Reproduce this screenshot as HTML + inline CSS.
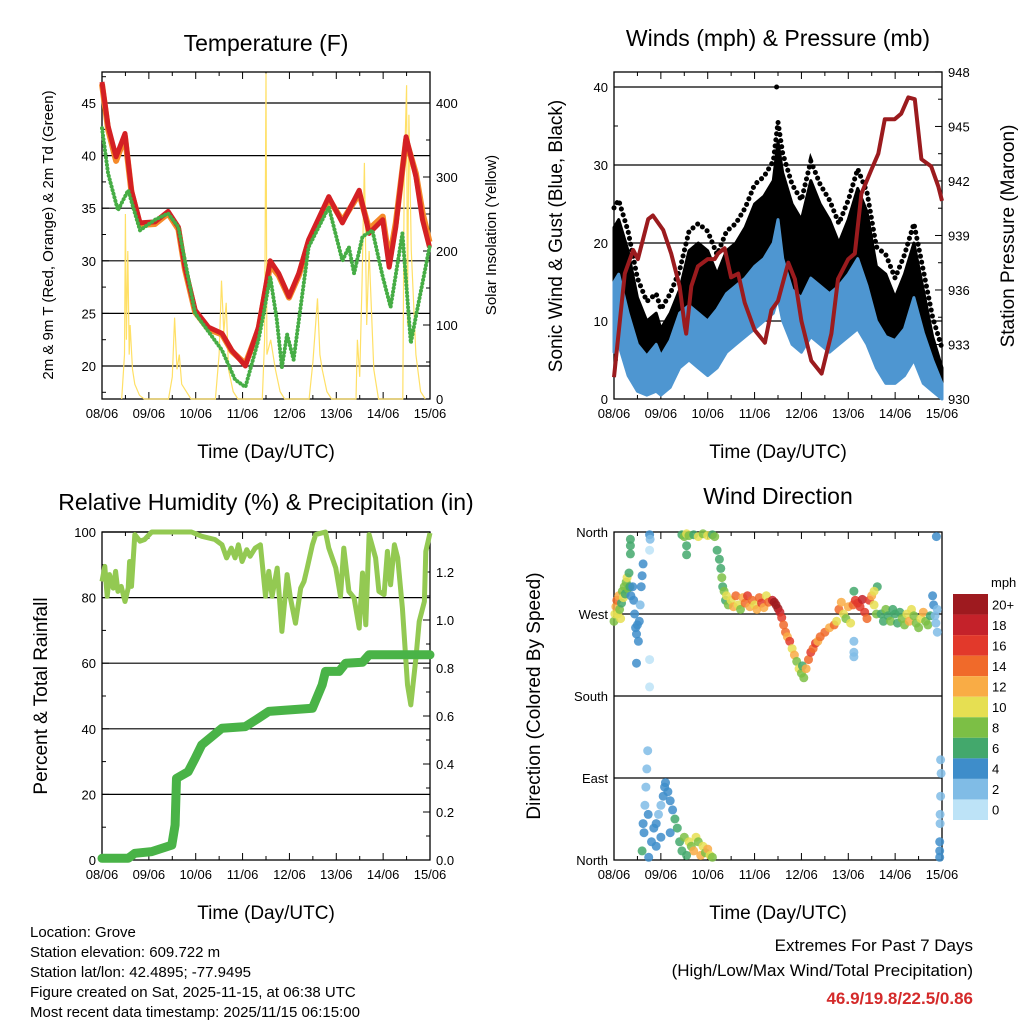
<!DOCTYPE html>
<html><head><meta charset="utf-8"><style>
html,body{margin:0;padding:0;background:#fff}
svg{display:block;font-family:"Liberation Sans",Arial,sans-serif}
</style></head><body>
<svg id="fig" width="1024" height="1024" viewBox="0 0 1024 1024" xmlns="http://www.w3.org/2000/svg"></svg>
<script>
// ---------- DATA ----------
const dayLabels = ["08/06","09/06","10/06","11/06","12/06","13/06","14/06","15/06"];
// Temperature (F)
const tRedT = [0,0.13,0.3,0.49,0.63,0.81,1.13,1.41,1.63,1.77,1.99,2.27,2.56,2.77,3.06,3.34,3.59,3.77,3.99,4.2,4.41,4.84,5.13,5.49,5.7,5.99,6.13,6.27,6.49,6.7,6.84,6.99];
const tRedV = [47,42.8,39.9,42.1,36.7,33.6,33.7,34.7,33.2,29.4,25.3,23.7,23.1,21.5,20,23.7,30,28.8,26.6,28.8,32,36.1,33.6,36.7,32.6,33.9,29.4,33.2,41.8,38,33.9,31.3];
const tOrV = [46.8,42.5,39.5,41.8,36.5,33.4,33.5,34.5,33,29.2,25.1,23.5,23,21.4,20.2,23.5,29.6,28.6,26.5,28.6,31.8,35.9,33.8,36.4,33,34.2,30,33.6,41.5,38.3,34.6,31.8];
const tDewT = [0,0.13,0.34,0.56,0.81,1.13,1.41,1.63,1.99,2.56,2.84,3.06,3.34,3.45,3.59,3.73,3.84,3.95,4.09,4.41,4.84,5.13,5.27,5.38,5.56,5.77,5.99,6.16,6.41,6.59,6.77,6.99];
const tDewV = [42.6,38.3,34.8,36.7,32.9,33.9,34.5,33.2,25,21.5,18.7,18,22.5,25,28.5,24.4,19.9,23,20.6,31.3,35.1,30,31.3,28.8,32.3,32.9,28.5,25.6,32.6,22.2,26.3,31.3];
const solarT = [0.42,0.48,0.5,0.52,0.55,0.58,0.6,0.65,0.7,0.8,0.9, 1.42,1.5,1.55,1.6,1.65,1.7,1.8,1.9, 2.42,2.5,2.55,2.6,2.65,2.7,2.8,2.9, 3.42,3.47,3.5,3.52,3.6,3.7,3.8,3.9, 4.42,4.5,4.6,4.65,4.7,4.8,4.9, 5.42,5.45,5.5,5.55,5.6,5.65,5.7,5.8,5.9, 6.42,6.45,6.5,6.52,6.55,6.6,6.7,6.8,6.9];
const solarV = [0,60,250,80,200,60,100,40,20,5,0, 0,30,110,40,60,20,10,0, 0,60,160,90,130,40,10,0, 0,80,440,60,80,40,10,0, 0,50,136,60,40,10,0, 0,80,30,160,319,100,200,40,0, 0,300,424,100,384,200,60,10,0];
// Winds (mph) & pressure (mb)
const windT = [0,0.1,0.3,0.5,0.7,0.9,1.0,1.2,1.4,1.6,1.8,2.0,2.2,2.4,2.6,2.8,3.0,3.2,3.4,3.5,3.6,3.8,4.0,4.2,4.4,4.6,4.8,5.0,5.2,5.4,5.6,5.8,6.0,6.2,6.4,6.6,6.8,7.0];
const gustV = [22,23,19,13,10,11,9,11,14,19,20,19,16,19,20,22,25,26,28,33,29,25,23,28,25,23,20,23,27,24,17,16,13,16,20,14,8,4];
const sustV = [15,16,11,7,5.5,7,5.5,7.5,11,12,11,10,11.5,13.5,14.5,15.5,17,18,20,23,18,14,13,15.5,14.5,13.5,14.5,16,18,14.5,10,8,7.5,9,13,8.5,5,2];
const lowV  = [6,7,3,1,0.5,1,0.5,1.5,4,5,4,3,4,6,7,8,9,10,11,13,10,7,6,8,7,6,7,8,9,7,4,2,2,3,5,2,1,0];
const maxGustT = [3.47];
const maxGustV = [40];
const presT = [0,0.23,0.41,0.51,0.73,0.83,1.05,1.22,1.4,1.51,1.54,1.65,1.79,2.0,2.15,2.22,2.36,2.5,2.65,2.79,3.0,3.22,3.36,3.5,3.72,3.86,4.0,4.21,4.43,4.64,4.78,5.0,5.14,5.28,5.49,5.64,5.78,5.99,6.13,6.28,6.42,6.56,6.77,6.92,7.0];
const presV = [931.2,936.9,938.2,937.7,939.9,940.1,939.3,938,936.2,934,933.6,936.2,937.3,937.7,937.7,938,938.3,936.7,936.9,935.3,933.8,933.1,934.9,935.4,937.5,936.6,934.3,932.1,931.4,933.6,936.6,937.7,938,941.3,942.6,943.5,945.4,945.4,945.7,946.6,946.5,943.2,942.8,941.7,940.9];
// RH (%) & precipitation (in)
const rhT = [0,0.06,0.11,0.16,0.24,0.29,0.34,0.41,0.49,0.56,0.59,0.63,0.7,0.81,0.91,1.06,1.91,2.13,2.41,2.56,2.66,2.76,2.84,2.91,2.99,3.09,3.16,3.27,3.38,3.49,3.56,3.63,3.74,3.84,3.95,4.02,4.13,4.24,4.31,4.38,4.49,4.56,4.77,4.84,4.99,5.09,5.16,5.27,5.38,5.49,5.56,5.63,5.7,5.84,5.91,6.02,6.09,6.16,6.24,6.31,6.41,6.52,6.59,6.7,6.77,6.88,6.91,7.0];
const rhV = [84.9,89.5,80.4,87,82.9,88,81.9,83.4,78.8,82.9,91,83.4,99.2,97.2,97.7,100,100,98.7,97.7,96.1,92.1,95.1,92.1,96.1,91,94.6,92.6,95.1,96.1,80.4,88,80.4,89,69.7,87,79.9,72.2,82.9,84.9,89,96.1,99.2,100,95.1,89,80.4,95.1,81.9,79.9,70.7,87.5,71.7,99.2,92.1,81.9,80.9,94.1,83.9,96.1,92.1,76.8,53.4,47.3,61.5,72.7,78.8,94.1,99.7];
const prT = [0,0.56,0.7,1.06,1.49,1.56,1.59,1.84,1.99,2.13,2.56,3.06,3.34,3.56,4.49,4.7,4.77,5.06,5.2,5.56,5.7,7.0];
const prV = [0.007,0.007,0.028,0.035,0.062,0.146,0.34,0.368,0.424,0.48,0.549,0.556,0.591,0.619,0.632,0.73,0.786,0.786,0.82,0.824,0.855,0.855];
// Wind direction (deg) & speed (mph)
const dirT = [0,0.02,0.04,0.06,0.08,0.1,0.12,0.14,0.16,0.18,0.2,0.22,0.24,0.26,0.28,0.3,0.32,0.34,0.36,0.35,0.35,0.35,0.4,0.42,0.44,0.46,0.48,0.5,0.52,0.54,0.56,0.58,0.6,0.48,0.62,0.76,0.77,0.76,0.76,0.76,0.6,0.62,0.64,0.66,0.68,0.7,0.72,0.74,0.73,0.8,0.85,0.9,0.95,1.0,1.05,1.08,1.1,1.15,1.2,1.25,1.3,1.0,0.9,1.2,1.35,1.4,1.45,1.5,1.6,1.65,1.7,1.75,1.8,1.85,1.9,1.95,2.0,2.05,2.1,1.55,1.45,1.5,1.55,1.6,1.7,1.8,1.9,2.0,2.1,2.15,1.55,1.55,2.2,2.25,2.28,2.3,2.32,2.35,2.38,2.4,2.44,2.5,2.55,2.6,2.65,2.7,2.75,2.8,2.85,2.9,2.95,3.0,3.05,3.1,3.15,3.2,3.25,3.3,3.38,3.42,3.46,3.5,3.54,3.58,3.62,3.66,3.7,3.75,3.8,3.85,3.9,3.95,4.0,4.05,4.02,4.1,4.15,4.2,4.25,4.3,4.35,4.4,4.5,4.6,4.7,4.75,4.8,4.85,4.9,4.95,5.0,5.05,5.1,5.15,5.2,5.25,5.3,5.35,5.4,5.45,5.5,5.55,5.6,5.62,5.55,5.12,5.12,5.12,5.12,5.7,5.75,5.8,5.85,5.9,5.95,6.0,6.05,6.1,6.15,6.2,6.25,6.3,6.35,6.4,6.45,6.5,6.55,6.6,6.65,6.7,6.75,6.8,6.82,6.85,6.87,6.9,6.9,6.88,6.97,6.98,6.97,6.96,6.96,6.95,6.95,6.95];
const dirV = [262,270,278,285,270,290,275,265,282,295,288,300,292,305,310,298,315,300,290,345,352,336,300,285,270,255,248,258,240,262,280,300,312,216,325,357,352,340,220,190,10,40,30,60,80,100,120,3,50,20,35,40,50,60,70,80,85,75,65,55,45,25,15,30,35,20,10,25,20,15,10,25,20,5,15,8,12,5,3,5,357,355,358,356,357,355,358,356,357,355,345,335,340,330,320,310,300,295,285,290,280,285,278,290,280,275,288,282,290,278,285,280,275,288,282,277,290,283,285,283,280,276,272,266,258,250,245,240,232,225,218,210,205,200,213,210,220,228,232,238,240,245,250,255,258,262,275,283,270,265,278,260,280,285,282,278,286,272,265,285,290,280,270,300,295,240,228,223,295,270,262,275,268,262,275,270,260,272,265,258,270,262,275,268,260,255,265,272,262,258,268,290,280,268,260,250,275,355,110,95,70,50,40,20,10,3];
const dirS = [8,10,12,14,10,12,8,10,6,8,10,8,6,8,10,8,6,6,4,6,6,6,4,4,4,4,4,4,4,4,2,4,4,4,4,4,2,0,0,0,6,4,4,2,2,2,2,4,4,4,4,4,2,2,4,4,4,4,4,4,6,4,4,4,6,6,6,8,10,8,12,10,8,12,10,8,12,10,8,6,6,8,10,8,6,10,8,10,6,8,6,6,6,6,6,8,6,8,6,10,8,10,12,14,10,8,12,14,16,12,14,10,12,14,16,12,10,14,18,20,20,20,18,16,14,14,12,16,10,12,8,10,8,8,6,12,14,16,14,16,12,14,14,12,14,10,14,12,10,8,12,10,14,16,16,16,18,16,14,16,12,10,8,6,10,2,2,2,6,6,6,8,6,8,6,6,6,6,8,8,10,12,10,8,8,8,10,12,8,8,6,4,4,2,2,2,2,4,2,2,2,2,2,4,4,4];
const cbLabels = ["20+","18","16","14","12","10","8","6","4","2","0"];
const cbColors = ["#9e1a1f","#c4222a","#e2392b","#f06a2a","#f9ac45","#e6df52","#7cbf45","#43a86c","#3e8dca","#80bce6","#bde3f7"];

// ---------- DRAWING ----------
const svg = document.getElementById('fig');
const NS = "http://www.w3.org/2000/svg";
function el(tag, attrs, parent){ const e=document.createElementNS(NS,tag); for(const k in attrs) e.setAttribute(k,attrs[k]); (parent||svg).appendChild(e); return e; }
function txt(x,y,s,size,anchor,extra){ const t=el('text',Object.assign({x:x,y:y,'font-size':size,'text-anchor':anchor||'start',fill:'#000'},extra||{})); t.textContent=s; return t; }
function pathFrom(ts,vs,X,Y){ return ts.map((t,i)=>(i?'L':'M')+X(t).toFixed(1)+' '+Y(vs[i]).toFixed(1)).join(' '); }
function areaFrom(ts,top,bot,X,Y){
  let d=ts.map((t,i)=>(i?'L':'M')+X(t).toFixed(1)+' '+Y(top[i]).toFixed(1)).join(' ');
  for(let i=ts.length-1;i>=0;i--) d+=' L'+X(ts[i]).toFixed(1)+' '+Y(bot[i]).toFixed(1);
  return d+' Z';
}

function frame(x0,x1,y0,y1,name){
  const g=el('g',{});
  
  
  el('rect',{x:x0,y:y0,width:x1-x0,height:y1-y0,fill:'none',stroke:'#000','stroke-width':1.3},g);
  const X=t=>x0+t*(x1-x0)/7;
  for(let d=0; d<=7; d+=0.5){
    const L = Number.isInteger(d)?7:4, x=X(d);
    el('line',{x1:x,y1:y1,x2:x,y2:y1-L,stroke:'#000','stroke-width':1},g);
    el('line',{x1:x,y1:y0,x2:x,y2:y0+L,stroke:'#000','stroke-width':1},g);
  }
  dayLabels.forEach((s,i)=>{ const t=txt(X(i),y1+19,s,13,'middle');
    
     });
  const xt=txt((x0+x1)/2,y1+59,'Time (Day/UTC)',19,'middle');
  
  
  return X;
}
function yTicks(x0,x1,Y,min,max,step,minor,side,grid,fmt,gridMin){
  for(let v=min; v<=max+1e-9; v+=minor){
    const major=Math.abs(v/step-Math.round(v/step))<1e-6;
    const y=Y(v), L=major?7:4;
    if(side==='left') el('line',{x1:x0,y1:y,x2:x0+L,y2:y,stroke:'#000','stroke-width':1});
    else el('line',{x1:x1,y1:y,x2:x1-L,y2:y,stroke:'#000','stroke-width':1});
    if(major){
      if(grid && v>(gridMin===undefined?min:gridMin)) el('line',{x1:x0,y1:y,x2:x1,y2:y,stroke:'#000','stroke-width':1.2});
      const s=fmt?fmt(v):String(Math.round(v));
      const t= side==='left'? txt(x0-6,y+5,s,13,'end') : txt(x1+6,y+5,s,13,'start');
      
      
    }
  }
}
function title(x,y,s,name){ const t=txt(x,y,s,23,'middle');   }
function vtitle(x,y,s,size,name){ const t=txt(0,0,s,size,'middle',{transform:`translate(${x},${y}) rotate(-90)`});   }

// ---- Panel 1: Temperature ----
(function(){
  const x0=102,x1=430,y0=72,y1=399;
  const Y=v=>366-(v-20)*10.52, YS=v=>399-v*0.74;
  yTicks(x0,x1,Y,17.5,47.5,5,2.5,'left',true,null,17);
  yTicks(x0,x1,YS,0,400,100,50,'right',false);
  const X=frame(x0,x1,y0,y1,'temperature');
  const s=el('path',{d:pathFrom(solarT,solarV,X,YS),fill:'none',stroke:'#ffe066','stroke-width':1.2});
   
  const o=el('path',{d:pathFrom(tRedT,tOrV,X,Y),fill:'none',stroke:'#f58a2a','stroke-width':6,'stroke-linejoin':'round'});
   
  const r=el('path',{d:pathFrom(tRedT,tRedV,X,Y),fill:'none',stroke:'#d42024','stroke-width':5,'stroke-linejoin':'round'});
   
  const g=el('path',{d:pathFrom(tDewT,tDewV,X,Y),fill:'none',stroke:'#46ad45','stroke-width':4,'stroke-dasharray':'0.1 3.6','stroke-linecap':'round'});
   
  title(266,51,'Temperature (F)','temperature-title');
  vtitle(53,235,'2m & 9m T (Red, Orange) & 2m Td (Green)',15,'temperature-y-title');
  vtitle(496,235,'Solar Insolation (Yellow)',15,'solar-y-title');
})();

// ---- Panel 2: Winds ----
(function(){
  const x0=614,x1=942,y0=72,y1=399;
  const Y=v=>399-v*7.8, YP=v=>399-(v-930)*18.17;
  yTicks(x0,x1,Y,0,40,10,5,'left',true);
  yTicks(x0,x1,YP,930,948,3,1.5,'right',false);
  const X=frame(x0,x1,y0,y1,'winds');
  const ga=el('path',{d:areaFrom(windT,gustV,sustV,X,Y),fill:'#000',stroke:'#000','stroke-width':3,'stroke-linejoin':'round'});
   
  const gp2=el('path',{d:pathFrom(windT,gustV.map(v=>v+2.5),X,Y),fill:'none',stroke:'#000','stroke-width':5,'stroke-dasharray':'0.1 6','stroke-linecap':'round'});
   
  const ba=el('path',{d:areaFrom(windT,sustV,lowV,X,Y),fill:'#4e96d1',stroke:'#4e96d1','stroke-width':3,'stroke-linejoin':'round'});
   
  maxGustT.forEach((t,i)=>{ const c=el('circle',{cx:X(t),cy:Y(maxGustV[i]),r:2.5,fill:'#000'});
      });
  const pp=el('path',{d:pathFrom(presT,presV,X,YP),fill:'none',stroke:'#9b1b1e','stroke-width':4,'stroke-linejoin':'round'});
   
  title(778,46,'Winds (mph) & Pressure (mb)','winds-title');
  vtitle(562,236,'Sonic Wind & Gust (Blue, Black)',19,'wind-y-title');
  vtitle(1014,236,'Station Pressure (Maroon)',19,'pressure-y-title');
})();

// ---- Panel 3: RH & precipitation ----
(function(){
  const x0=102,x1=430,y0=532,y1=860;
  const Y=v=>860-v*3.28, YP=v=>860-v*240;
  yTicks(x0,x1,Y,0,100,20,10,'left',true);
  yTicks(x0,x1,YP,0,1.3,0.2,0.1,'right',false,v=>v.toFixed(1));
  const X=frame(x0,x1,y0,y1,'humidity');
  const rh=el('path',{d:pathFrom(rhT,rhV,X,Y),fill:'none',stroke:'#93c952','stroke-width':5,'stroke-linejoin':'round'});
   
  const pr=el('path',{d:pathFrom(prT,prV,X,YP),fill:'none',stroke:'#49b347','stroke-width':9,'stroke-linejoin':'round','stroke-linecap':'round'});
   
  title(266,510,'Relative Humidity (%) & Precipitation (in)','humidity-title');
  vtitle(47,696,'Percent & Total Rainfall',19,'humidity-y-title');
})();

// ---- Panel 4: Wind direction ----
(function(){
  const x0=614,x1=942,y0=532,y1=860;
  const Y=v=>860-v*328/360;
  const names=["North","East","South","West","North"];
  [0,90,180,270,360].forEach((d,i)=>{
    const y=Y(d);
    if(i>0&&i<4) el('line',{x1:x0,y1:y,x2:x1,y2:y,stroke:'#000','stroke-width':1.2});
    el('line',{x1:x0,y1:y,x2:x0+7,y2:y,stroke:'#000'});
    const t=txt(x0-6,y+5,names[i],13,'end');
     
  });
  const X=frame(x0,x1,y0,y1,'wind-direction');
  const g=el('g',{'fill-opacity':0.85});
   
  dirT.forEach((t,i)=>{
    const idx=Math.min(10,Math.floor(dirS[i]/2));
    const c=el('circle',{cx:X(t).toFixed(1),cy:Y(dirV[i]).toFixed(1),r:4.5,fill:cbColors[10-idx]},g);
    
    
  });
  title(778,504,'Wind Direction','wind-direction-title');
  vtitle(540,696,'Direction (Colored By Speed)',19,'direction-y-title');
  // colorbar
  const cb=el('g',{});
   
  const h=226/11;
  cbColors.forEach((c,i)=>{
    el('rect',{x:953,y:594+i*h,width:35,height:h,fill:c},cb);
    const t=txt(992,594+i*h+h/2+5,cbLabels[i],13,'start');
     
  });
  const m=txt(991,587,'mph',13,'start');
   
})();

// ---- Footer text ----
const info=["Location: Grove","Station elevation: 609.722 m","Station lat/lon: 42.4895; -77.9495","Figure created on Sat, 2025-11-15, at 06:38 UTC","Most recent data timestamp: 2025/11/15 06:15:00"];
info.forEach((s,i)=>{ const t=txt(30,937+i*20,s,15,'start');
    });
let t1=txt(973,951,'Extremes For Past 7 Days',17,'end');
 
let t2=txt(973,976,'(High/Low/Max Wind/Total Precipitation)',17,'end');
 
let t3=txt(973,1004,'46.9/19.8/22.5/0.86',17,'end',{fill:'#d42a2a','font-weight':'bold'});
 
</script>
</body></html>
